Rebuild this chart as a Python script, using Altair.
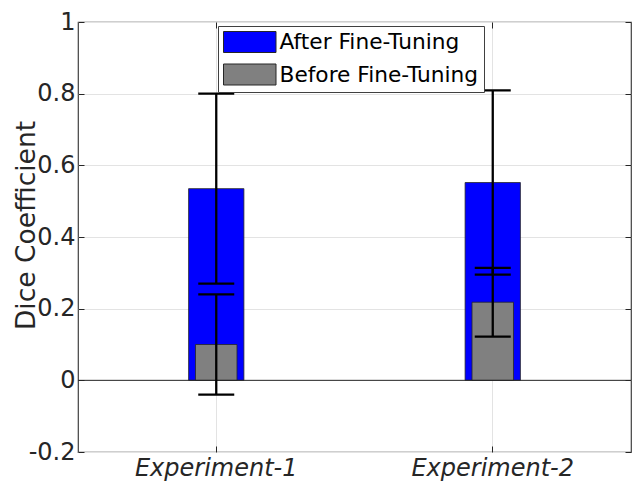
import altair as alt
import pandas as pd

# ---- data ----
experiments = ["Experiment-1", "Experiment-2"]
series_names = ["After Fine-Tuning", "Before Fine-Tuning"]
after_mean = [0.535, 0.552]
after_err = [0.265, 0.257]
before_mean = [0.100, 0.218]
before_err = [0.140, 0.096]
y_ticks = [-0.2, 0, 0.2, 0.4, 0.6, 0.8, 1]
zero_line = [0]

df_after = pd.DataFrame({
    "exp": experiments,
    "series": [series_names[0]] * len(experiments),
    "value": after_mean,
    "lo": [m - e for m, e in zip(after_mean, after_err)],
    "hi": [m + e for m, e in zip(after_mean, after_err)],
})
df_before = pd.DataFrame({
    "exp": experiments,
    "series": [series_names[1]] * len(experiments),
    "value": before_mean,
    "lo": [m - e for m, e in zip(before_mean, before_err)],
    "hi": [m + e for m, e in zip(before_mean, before_err)],
})
df_err = pd.concat([df_after, df_before], ignore_index=True)
df_zero = pd.DataFrame({"zero": zero_line})

PAD = {"left": 70, "top": 14, "right": 1, "bottom": 29}
W, H = 624 - PAD["left"] - PAD["right"], 473 - PAD["top"] - PAD["bottom"]
FONT = "DejaVu Sans"
AX = "#262626"

xscale = alt.Scale(domain=experiments, paddingInner=0, paddingOuter=0)
yscale = alt.Scale(domain=[-0.2, 1], nice=False, zero=False)
cscale = alt.Scale(domain=series_names, range=["#0000ff", "#808080"])

ylabel_expr = "datum.value < 0 ? '-' + format(-datum.value, '~g') : format(datum.value, '~g')"

x_main = alt.Axis(title=None, grid=True, gridColor="#e3e3e3", ticks=False, tickSize=0,
                  domain=False, labelFont=FONT, labelFontSize=24, labelFontStyle="italic",
                  labelColor=AX, labelPadding=4, bandPosition=0.5, labelAngle=0)
y_main = alt.Axis(title="Dice Coefficient", values=y_ticks, grid=True, gridColor="#e3e3e3",
                  ticks=False, tickSize=0, domain=False, labelFont=FONT, labelFontSize=24,
                  labelColor=AX, labelPadding=3, labelExpr=ylabel_expr,
                  titleFont=FONT, titleFontSize=26.5, titleFontWeight="normal",
                  titleColor=AX, titleX=26 - PAD["left"], titleY=round(0.473 * H),
                  titleAngle=270, titleAlign="center", titleBaseline="alphabetic")


def tick_axis(orient, offset, values=None):
    kw = dict(orient=orient, offset=offset, labels=False, domain=False, grid=False,
              ticks=True, tickSize=6, tickColor=AX, tickWidth=1, title=None)
    if values is not None:
        kw["values"] = values
    return alt.Axis(**kw)


legend = alt.Legend(title=None, orient="none", legendX=140, legendY=4, direction="vertical",
                    symbolType="M-1,-1L4,-1L4,1L-1,1Z", symbolSize=441,
                    symbolStrokeColor=AX, symbolStrokeWidth=1, symbolOpacity=1,
                    labelFont=FONT, labelFontSize=21.7, labelColor="black",
                    labelOffset=34.5, rowPadding=6.5, padding=5, labelLimit=400,
                    strokeColor="#404040", fillColor="white")

bars_after = alt.Chart(df_after).mark_bar(width=alt.RelativeBandSize(0.2), stroke=AX,
                                          strokeWidth=0.8, opacity=1).encode(
    x=alt.X("exp:N", sort=experiments, scale=xscale, axis=x_main),
    y=alt.Y("value:Q", scale=yscale, axis=y_main, stack=None),
    color=alt.Color("series:N", scale=cscale, legend=legend),
)

bars_before = alt.Chart(df_before).mark_bar(width=alt.RelativeBandSize(0.15), stroke=AX,
                                            strokeWidth=0.8, opacity=1).encode(
    x=alt.X("exp:N", sort=experiments, scale=xscale, axis=tick_axis("bottom", -H)),
    y=alt.Y("value:Q", scale=yscale, axis=tick_axis("right", -W, y_ticks), stack=None),
    color=alt.Color("series:N", scale=cscale, legend=None),
)

zero_rule = alt.Chart(df_zero).mark_rule(color=AX, strokeWidth=1).encode(
    y=alt.Y("zero:Q", scale=yscale, axis=None),
)

err_rules = alt.Chart(df_err).mark_rule(color="black", strokeWidth=2.3).encode(
    x=alt.X("exp:N", sort=experiments, scale=xscale, axis=tick_axis("top", -H)),
    y=alt.Y("lo:Q", scale=yscale, axis=tick_axis("left", -W, y_ticks)),
    y2="hi:Q",
)

caps_lo = alt.Chart(df_err).mark_tick(color="black", thickness=2.3, size=36, opacity=1).encode(
    x=alt.X("exp:N", sort=experiments, scale=xscale, axis=None),
    y=alt.Y("lo:Q", scale=yscale, axis=None),
)
caps_hi = alt.Chart(df_err).mark_tick(color="black", thickness=2.3, size=36, opacity=1).encode(
    x=alt.X("exp:N", sort=experiments, scale=xscale, axis=None),
    y=alt.Y("hi:Q", scale=yscale, axis=None),
)

chart = alt.layer(
    bars_after, bars_before, zero_rule, err_rules, caps_lo, caps_hi
).resolve_axis(
    x="independent", y="independent"
).properties(
    width=W, height=H,
    padding=PAD,
    autosize=alt.AutoSizeParams(type="none"),
    background="white",
).configure_view(
    stroke="#404040", strokeWidth=1.2
)

chart.save("out.html", embed_options={"renderer": "svg", "actions": False})
